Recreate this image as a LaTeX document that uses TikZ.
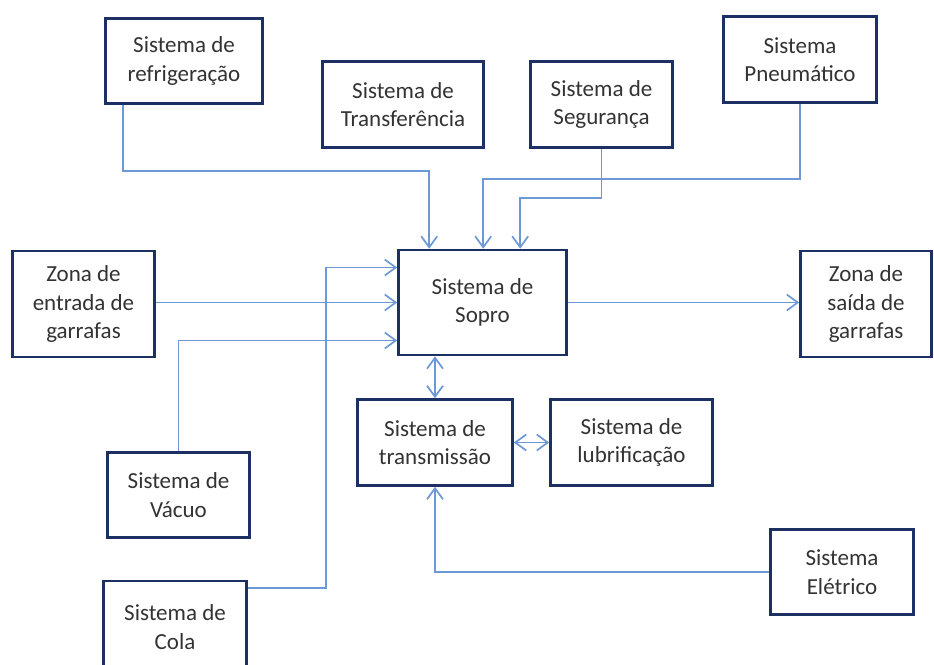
\documentclass[tikz,border=0pt]{standalone}
\usepackage{fontspec}
\setmainfont{Carlito}
\usetikzlibrary{arrows.meta, positioning, calc}
\definecolor{boxline}{RGB}{28,48,100}
\definecolor{arrline}{RGB}{108,152,214}

\begin{document}
\begin{tikzpicture}[x=1pt,y=-1pt, b/.style={rectangle,draw=boxline,line width=2.6pt,fill=white,text=black!80,align=center,font=\fontsize{23}{28.5}\selectfont,inner sep=0pt}, a/.style={-{Straight Barb[length=11pt,width=16pt]},line width=1.7pt,arrline}, aa/.style={{Straight Barb[length=11pt,width=16pt]}-{Straight Barb[length=11pt,width=16pt]},line width=1.7pt,arrline}]
  \useasboundingbox (0,0) rectangle (934,664);
  \clip (0,0) rectangle (934,664);
  \node[b,minimum width=157pt,minimum height=85pt](ref) at (184,61){Sistema de\\refrigeração};
  \node[b,minimum width=161pt,minimum height=86pt](tra) at (403,104.5){Sistema de\\Transferência};
  \node[b,minimum width=142pt,minimum height=86pt](seg) at (601.5,104.5){Sistema de\\Segurança};
  \node[b,minimum width=153pt,minimum height=86pt](pne) at (800,59.5){Sistema\\Pneumático};
  \node[b,minimum width=142pt,minimum height=106pt](ent) at (83.5,304){Zona de\\entrada de\\garrafas};
  \node[b,minimum width=168pt,minimum height=105pt](sop) at (482.5,302.5){Sistema de\\Sopro};
  \node[b,minimum width=131pt,minimum height=106pt](sai) at (866,304){Zona de\\saída de\\garrafas};
  \node[b,minimum width=155pt,minimum height=86pt](trm) at (435,442.5){Sistema de\\transmissão};
  \node[b,minimum width=162pt,minimum height=86pt](lub) at (631.5,442.5){Sistema de\\lubrificação};
  \node[b,minimum width=142pt,minimum height=85pt](vac) at (178.5,495){Sistema de\\Vácuo};
  \node[b,minimum width=143pt,minimum height=92pt](col) at (175,627){Sistema de\\Cola};
  \node[b,minimum width=143pt,minimum height=85pt](ele) at (842,572){Sistema\\Elétrico};
  % ligacoes ao sistema de sopro
  \draw[a]([xshift=19pt]ref.south west)--++(0,66)-|([xshift=32pt]sop.north west);
  \draw[a](pne.south)--++(0,75)-|([xshift=86pt]sop.north west);
  \draw[a](seg.south)--++(0,49)-|([xshift=123pt]sop.north west);
  \draw[a](ent.east|-sop.west)--(sop.west);
  \draw[a](vac.north)|-([yshift=-38pt]sop.west);
  \draw[a]([yshift=-8pt]col.north east)--++(78,0)|-([yshift=35pt]sop.west);
  \draw[a](sop.east)--(sop.east-|sai.west);
  \foreach \x/\y in {trm.north/trm.north|-sop.south,trm.east/lub.west}{\draw[aa](\x)--(\y);}
  \draw[a](ele.west)-|(trm.south);
\end{tikzpicture}
\end{document}
